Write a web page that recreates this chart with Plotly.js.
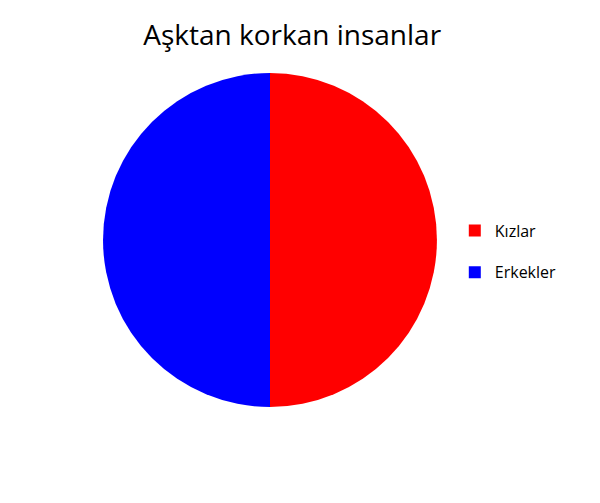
<!DOCTYPE html>
<html>
<head>
<meta charset="utf-8">
<script src="https://cdn.plot.ly/plotly-3.0.1.min.js"></script>
<style>
  html, body { margin: 0; padding: 0; background: #fff; }
  #chart { width: 600px; height: 503px; }
</style>
</head>
<body>
<div id="chart"></div>
<script>
// chart data
const labels = ["Kızlar", "Erkekler"];
const values = [50, 50];
const colors = ["#ff0000", "#0000ff"];
const chartTitle = "Aşktan korkan insanlar";

// the real pie, legend off
const traces = [{
  type: 'pie',
  labels: labels,
  values: values,
  sort: false,
  direction: 'clockwise',
  rotation: 0,
  textinfo: 'none',
  hoverinfo: 'label+percent',
  showlegend: false,
  marker: { colors: colors, line: { width: 0 } },
  domain: { x: [0.1717, 0.7283], y: [0.1909, 0.8549] }
}];

// one tiny helper pie per label so the legend entries can be spaced out
labels.forEach((lab, i) => {
  traces.push({
    type: 'pie',
    labels: [lab],
    values: [values[i]],
    textinfo: 'none',
    hoverinfo: 'skip',
    showlegend: true,
    legendgroup: 'g' + i,
    marker: { colors: [colors[i]], line: { width: 0 } },
    domain: { x: [0, 0.0001], y: [0, 0.0001] }
  });
});

Plotly.newPlot('chart', traces, {
  width: 600,
  height: 503,
  margin: { l: 0, r: 0, t: 0, b: 0 },
  paper_bgcolor: '#fff',
  title: {
    text: chartTitle,
    font: { family: 'Open Sans, sans-serif', size: 28, color: '#000' },
    x: 0.487, xanchor: 'center',
    y: 0.93, yanchor: 'middle'
  },
  showlegend: true,
  legend: {
    x: 0.758, y: 0.5, xanchor: 'left', yanchor: 'middle',
    font: { family: 'Open Sans, sans-serif', size: 16, color: '#000' },
    tracegroupgap: 18,
    itemwidth: 30
  }
}, { displayModeBar: false });
</script>
</body>
</html>
